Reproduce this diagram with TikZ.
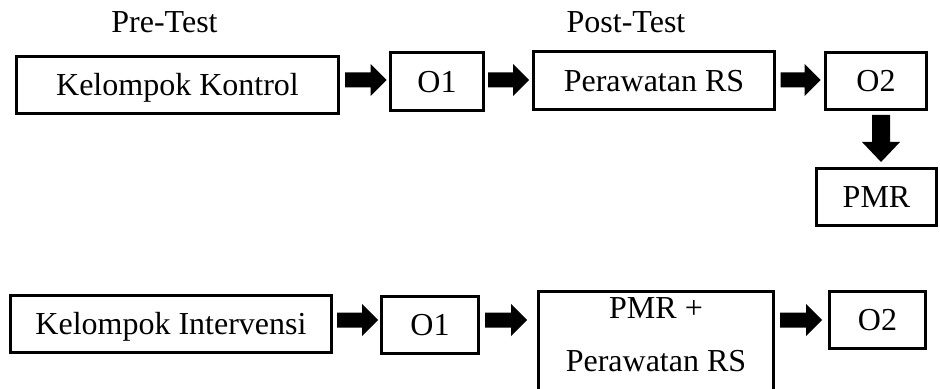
\documentclass[tikz,border=0pt]{standalone}
\usepackage{fontspec}
\setmainfont{Liberation Serif}
\usetikzlibrary{calc}
% horizontal block arrow: from, to, y(px), start gap(px), end gap(px)
\newcommand\harr[5]{%
  \fill let \p1=(#1.east), \p2=(#2.west), \p3=(0,#3) in
    (\x1+#4*0.5pt, \y3+3.75pt) -- (\x2-#5*0.5pt-8pt, \y3+3.75pt) --
    (\x2-#5*0.5pt-8pt, \y3+8pt) -- (\x2-#5*0.5pt, \y3) --
    (\x2-#5*0.5pt-8pt, \y3-8pt) -- (\x2-#5*0.5pt-8pt, \y3-3.75pt) --
    (\x1+#4*0.5pt, \y3-3.75pt) -- cycle;}
% vertical block arrow: from, to, x(px), start gap(px), end gap(px)
\newcommand\varr[5]{%
  \fill let \p1=(#1.south), \p2=(#2.north), \p3=(#3,0) in
    (\x3-4.5pt, \y1-#4*0.5pt) -- (\x3-4.5pt, \y2+#5*0.5pt+10pt) --
    (\x3-9.5pt, \y2+#5*0.5pt+10pt) -- (\x3, \y2+#5*0.5pt) --
    (\x3+9.5pt, \y2+#5*0.5pt+10pt) -- (\x3+4.5pt, \y2+#5*0.5pt+10pt) --
    (\x3+4.5pt, \y1-#4*0.5pt) -- cycle;}
\begin{document}
\begin{tikzpicture}[x=0.5pt,y=-0.5pt,
  txt/.style={font=\fontsize{16pt}{19pt}\selectfont, inner sep=0pt},
  box/.style={txt, draw, line width=1.5pt, text height=10.6pt, text depth=0pt}]
\useasboundingbox (0,0) rectangle (940,389);
% labels
\node[txt, anchor=base] (pre) at (164.5,33) {Pre-Test};
\node[txt, anchor=base] (post) at (626,33) {Post-Test};
% row 1
\node[box, minimum width=161pt, minimum height=28.5pt] (kk) at (177.5,85) {Kelompok Kontrol};
\node[box, minimum width=46.5pt, minimum height=29pt] (o1a) at (437,81.5) {O1};
\node[box, minimum width=120.5pt, minimum height=29pt] (pra) at (654,80.5) {Perawatan RS};
\node[box, minimum width=50.5pt, minimum height=28.5pt] (o2a) at (876,81) {O2};
\node[box, minimum width=60pt, minimum height=28.5pt] (pmr) at (876.5,197) {PMR};
% row 2
\node[box, minimum width=160.5pt, minimum height=28.5pt] (ki) at (171,324) {Kelompok Intervensi};
\node[box, minimum width=48.5pt, minimum height=28.5pt] (o1b) at (430,325) {O1};
\node[inner sep=0pt, outer sep=0pt, minimum width=117.5pt, minimum height=48.75pt] (pmrbox) at (656,340.25) {};
\draw[line width=1.5pt] (pmrbox.south west) |- (pmrbox.north east) -- (pmrbox.south east);
\node[txt, align=center, font=\fontsize{16pt}{26.5pt}\selectfont] (pmrtext) at (656,335) {PMR +\\Perawatan RS};
\node[box, minimum width=48pt, minimum height=28.5pt] (o2b) at (877.5,320) {O2};
% arrows
\harr{kk}{o1a}{80}{5}{2.5}
\harr{o1a}{pra}{80}{3}{3}
\harr{pra}{o2a}{80}{4.5}{3.3}
\varr{o2a}{pmr}{881}{4}{5}
\harr{ki}{o1b}{320}{4}{2}
\harr{o1b}{pmrbox}{320}{5}{11.5}
\harr{pmrbox}{o2b}{320}{6.5}{6}
\end{tikzpicture}
\end{document}
